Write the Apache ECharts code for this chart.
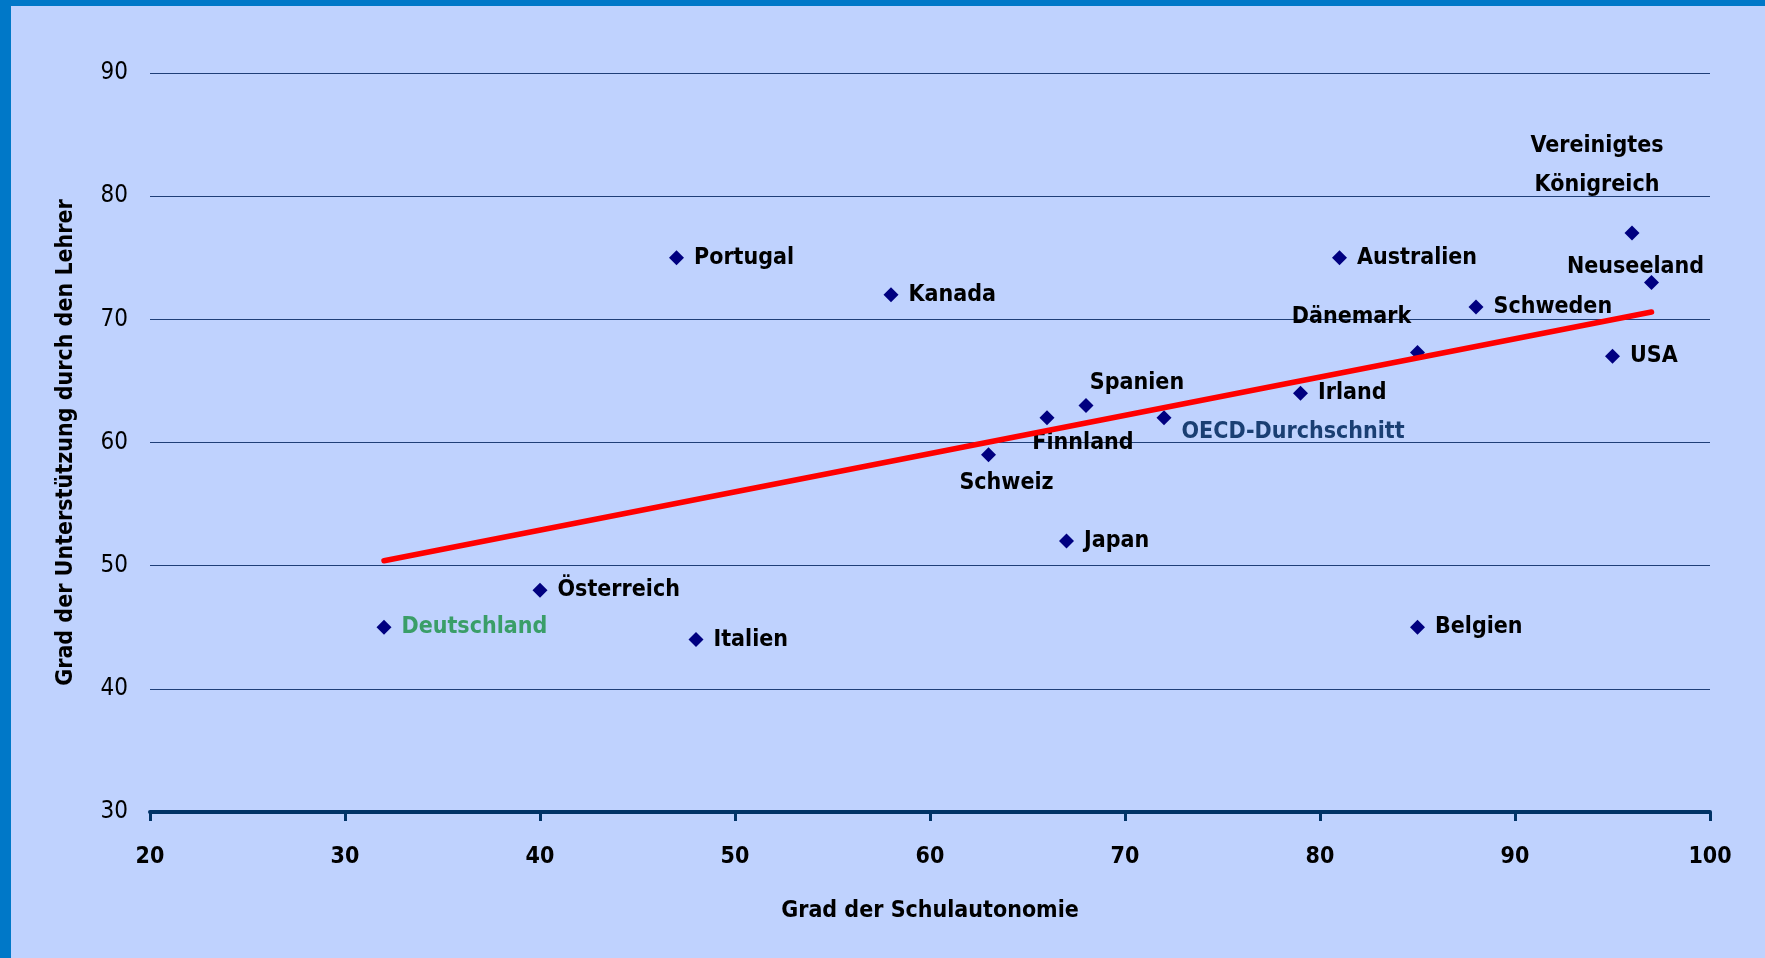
<!DOCTYPE html>
<html>
<head>
<meta charset="utf-8">
<script src="https://cdn.jsdelivr.net/npm/echarts@6/dist/echarts.min.js"></script>
<style>
html,body{margin:0;padding:0;width:1765px;height:958px;overflow:hidden;background:#0078C8;}
#chart{position:absolute;left:11px;top:6px;width:1754px;height:952px;background:#BFD2FE;}
</style>
</head>
<body>
<div id="chart"></div>
<script>
const countries = ["Deutschland","Österreich","Italien","Portugal","Kanada","Schweiz","Finnland","Spanien","Japan","OECD-Durchschnitt","Irland","Australien","Dänemark","Belgien","Schweden","USA","Vereinigtes\nKönigreich","Neuseeland"];
const autonomy = [32,40,48,47,58,63,66,68,67,72,79,81,85,85,88,95,96,97];
const support  = [45,48,44,75,72,59,62,63,52,62,64,75,67.3,45,71,67,77,73];
const trendX = [32,97];
const trendY = [50.4,70.6];
const xTicks = [20,30,40,50,60,70,80,90,100];
const yTicks = [30,40,50,60,70,80,90];

const FONT = "'Liberation Sans Narrow','Arial Narrow','DejaVu Sans Condensed','Liberation Sans',sans-serif";

// label placement (styling, not data)
const labelStyle = {
  "Deutschland": {color:'#3A9E68'},
  "OECD-Durchschnitt": {color:'#1A3F73', offset:[0,14]},
  "Schweiz": {position:'inside', offset:[18,28]},
  "Finnland": {position:'inside', offset:[36,25]},
  "Spanien": {position:'inside', offset:[51,-23]},
  "Dänemark": {position:'inside', offset:[-66,-36]},
  "Vereinigtes\nKönigreich": {position:'inside', offset:[-35,-68]},
  "Neuseeland": {position:'inside', offset:[-16,-15]}
};

const scatterData = countries.map((c,i)=>{
  const s = labelStyle[c] || {};
  return {
    name: c,
    value: [autonomy[i], support[i]],
    label: Object.assign({show:true, formatter:c, position:'right', distance:10,
      fontFamily:FONT, fontSize:23, fontWeight:'bold', color:'#000', lineHeight:39, opacity:1}, s)
  };
});

const chart = echarts.init(document.getElementById('chart'));
chart.setOption({
  backgroundColor:'#BFD2FE',
  animation:false,
  textStyle:{fontFamily:FONT},
  grid:{left:139, right:55, top:67, bottom:146, containLabel:false},
  xAxis:{
    type:'value', min:xTicks[0], max:xTicks[xTicks.length-1], interval:10,
    name:'Grad der Schulautonomie', nameLocation:'middle', nameGap:88,
    nameTextStyle:{fontFamily:FONT, fontSize:23, fontWeight:'bold', color:'#000'},
    axisLine:{show:true, lineStyle:{color:'#003366', width:4}},
    axisTick:{show:true, length:9, lineStyle:{color:'#003366', width:3}},
    axisLabel:{fontFamily:FONT, fontSize:23, fontWeight:'bold', color:'#000', margin:34},
    splitLine:{show:false}
  },
  yAxis:{
    type:'value', min:yTicks[0], max:yTicks[yTicks.length-1], interval:10,
    name:'Grad der Unterstützung durch den Lehrer', nameLocation:'middle', nameGap:72,
    nameTextStyle:{fontFamily:FONT, fontSize:23, fontWeight:'bold', color:'#000'},
    axisLine:{show:false}, axisTick:{show:false},
    axisLabel:{fontFamily:FONT, fontSize:24, color:'#000', margin:22},
    splitLine:{show:true, lineStyle:{color:'#1F3F78', width:1.2}}
  },
  series:[
    {
      type:'scatter', symbol:'diamond', symbolSize:15,
      itemStyle:{color:'#000080', opacity:1},
      emphasis:{disabled:true},
      data:scatterData, z:3
    },
    {
      type:'line', showSymbol:false, symbol:'none',
      lineStyle:{color:'#FF0000', width:5.5, cap:'round'},
      emphasis:{disabled:true},
      data: trendX.map((x,i)=>[x, trendY[i]]), z:4
    }
  ]
});
</script>
</body>
</html>
